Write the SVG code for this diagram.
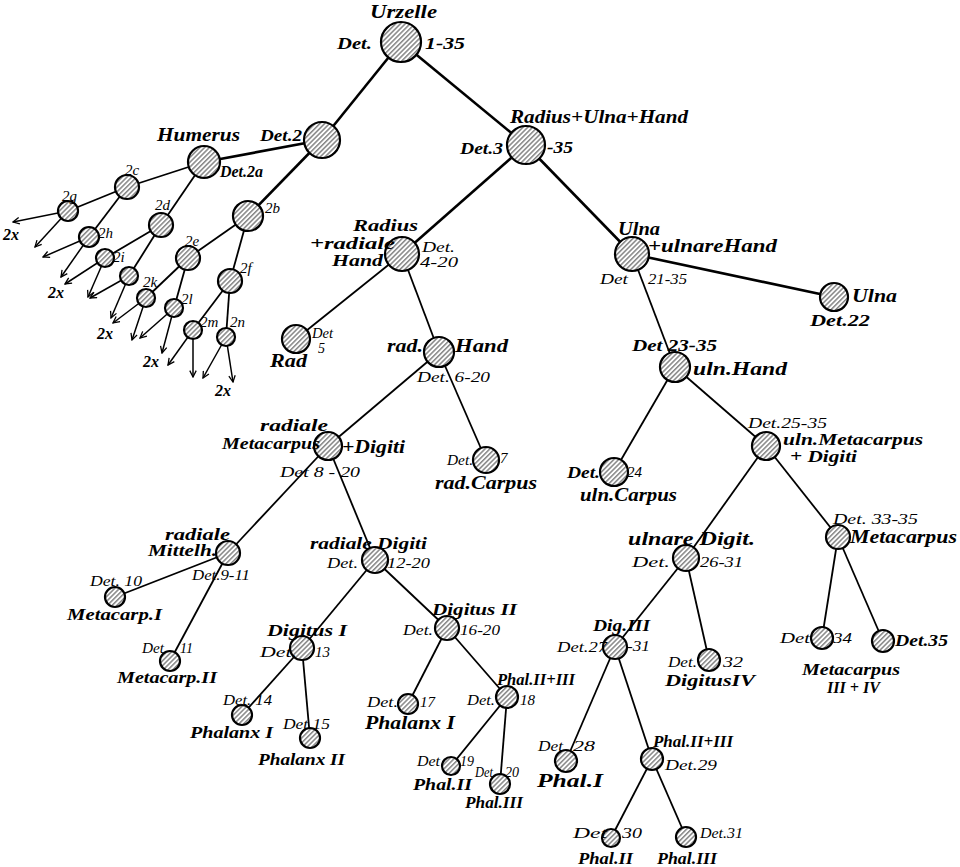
<svg xmlns="http://www.w3.org/2000/svg" width="960" height="867" viewBox="0 0 960 867">
<defs>
<pattern id="h" width="3.4" height="3.4" patternUnits="userSpaceOnUse" patternTransform="rotate(45)"><rect width="3.4" height="3.4" fill="#fff"/><line x1="0.8" y1="0" x2="0.8" y2="3.4" stroke="#333" stroke-width="0.9"/></pattern>
<marker id="ar" viewBox="0 0 10 10" refX="9" refY="5" markerWidth="8" markerHeight="8" markerUnits="userSpaceOnUse" orient="auto"><path d="M1,1 L9,5 L1,9" fill="none" stroke="#000" stroke-width="1.6"/></marker>
</defs>
<style>
text{font-family:"Liberation Serif",serif;font-style:italic;fill:#000}
.n{font-size:18px;font-weight:bold}
.k{font-size:16px;font-weight:bold}
.m{font-size:16px;font-weight:bold}
.d{font-size:15px}
.s{font-size:14px}
circle{fill:url(#h);stroke:#000;stroke-width:2.2}
.c line{stroke:#000;stroke-width:1.8}
.c .t{stroke-width:2.6}
.c .a{stroke-width:1.5;marker-end:url(#ar)}
</style>
<rect width="960" height="867" fill="#fff"/>
<g class="c" id="connectors">
<line class="t" x1="401" y1="42" x2="322" y2="140"/>
<line class="t" x1="401" y1="42" x2="526" y2="145"/>
<line class="t" x1="322" y1="140" x2="204" y2="162"/>
<line class="t" x1="322" y1="140" x2="248" y2="216"/>
<line x1="204" y1="162" x2="127" y2="187"/>
<line x1="204" y1="162" x2="161" y2="225"/>
<line x1="127" y1="187" x2="68" y2="211"/>
<line x1="127" y1="187" x2="89" y2="237"/>
<line x1="161" y1="225" x2="105" y2="258"/>
<line x1="161" y1="225" x2="129" y2="276"/>
<line x1="248" y1="216" x2="188" y2="258"/>
<line x1="248" y1="216" x2="230" y2="281"/>
<line x1="188" y1="258" x2="146" y2="298"/>
<line x1="188" y1="258" x2="174" y2="308"/>
<line x1="230" y1="281" x2="193" y2="330"/>
<line x1="230" y1="281" x2="226" y2="337"/>
<line class="a" x1="68" y1="211" x2="13" y2="222"/>
<line class="a" x1="68" y1="211" x2="35" y2="247"/>
<line class="a" x1="89" y1="237" x2="43" y2="257"/>
<line class="a" x1="89" y1="237" x2="61" y2="277"/>
<line class="a" x1="105" y1="258" x2="65" y2="284"/>
<line class="a" x1="105" y1="258" x2="88" y2="297"/>
<line class="a" x1="129" y1="276" x2="90" y2="298"/>
<line class="a" x1="129" y1="276" x2="111" y2="318"/>
<line class="a" x1="146" y1="298" x2="113" y2="323"/>
<line class="a" x1="146" y1="298" x2="132" y2="340"/>
<line class="a" x1="174" y1="308" x2="140" y2="338"/>
<line class="a" x1="174" y1="308" x2="162" y2="353"/>
<line class="a" x1="193" y1="330" x2="168" y2="365"/>
<line class="a" x1="193" y1="330" x2="193" y2="377"/>
<line class="a" x1="226" y1="337" x2="203" y2="378"/>
<line class="a" x1="226" y1="337" x2="233" y2="382"/>
<line class="t" x1="526" y1="145" x2="402" y2="254"/>
<line class="t" x1="526" y1="145" x2="632" y2="254"/>
<line x1="402" y1="254" x2="296" y2="339"/>
<line x1="402" y1="254" x2="439" y2="352"/>
<line x1="439" y1="352" x2="328" y2="446"/>
<line x1="439" y1="352" x2="486" y2="460"/>
<line x1="328" y1="446" x2="228" y2="553"/>
<line x1="328" y1="446" x2="375" y2="560"/>
<line x1="228" y1="553" x2="115" y2="597"/>
<line x1="228" y1="553" x2="170" y2="661"/>
<line x1="375" y1="560" x2="302" y2="648"/>
<line x1="375" y1="560" x2="447" y2="628"/>
<line x1="302" y1="648" x2="242" y2="715"/>
<line x1="302" y1="648" x2="310" y2="738"/>
<line x1="447" y1="628" x2="408" y2="704"/>
<line x1="447" y1="628" x2="507" y2="697"/>
<line x1="507" y1="697" x2="451" y2="766"/>
<line x1="507" y1="697" x2="500" y2="784"/>
<line class="t" x1="632" y1="254" x2="834" y2="297"/>
<line x1="632" y1="254" x2="675" y2="367"/>
<line x1="675" y1="367" x2="614" y2="472"/>
<line x1="675" y1="367" x2="766" y2="446"/>
<line x1="766" y1="446" x2="686" y2="558"/>
<line x1="766" y1="446" x2="838" y2="537"/>
<line x1="686" y1="558" x2="615" y2="647"/>
<line x1="686" y1="558" x2="709" y2="660"/>
<line x1="838" y1="537" x2="822" y2="638"/>
<line x1="838" y1="537" x2="883" y2="641"/>
<line x1="615" y1="647" x2="566" y2="761"/>
<line x1="615" y1="647" x2="652" y2="759"/>
<line x1="652" y1="759" x2="611" y2="838"/>
<line x1="652" y1="759" x2="686" y2="837"/>
</g>
<g id="n-urzelle"><circle cx="401" cy="42" r="20" stroke-width="2.6"/>
<text class="n" x="370" y="18" textLength="67" lengthAdjust="spacingAndGlyphs">Urzelle</text>
<text class="m" x="337" y="49" textLength="35" lengthAdjust="spacingAndGlyphs">Det.</text>
<text class="m" x="425" y="49" textLength="40" lengthAdjust="spacingAndGlyphs">1-35</text></g>
<g id="n-det2"><circle cx="322" cy="140" r="18" stroke-width="2.6"/>
<text class="m" x="260" y="141" textLength="42" lengthAdjust="spacingAndGlyphs">Det.2</text></g>
<g id="n-det2a"><circle cx="204" cy="162" r="16" stroke-width="2.4"/>
<text class="n" x="157" y="141" textLength="83" lengthAdjust="spacingAndGlyphs">Humerus</text>
<text class="m" x="220" y="177" textLength="43" lengthAdjust="spacingAndGlyphs">Det.2a</text></g>
<g id="n-2b"><circle cx="248" cy="216" r="15"/><text class="d" x="265" y="213">2b</text></g>
<g id="n-2c"><circle cx="127" cy="187" r="12"/><text class="d" x="125" y="175">2c</text></g>
<g id="n-2d"><circle cx="161" cy="225" r="12"/><text class="d" x="155" y="210">2d</text></g>
<g id="n-2e"><circle cx="188" cy="258" r="12"/><text class="d" x="185" y="246">2e</text></g>
<g id="n-2f"><circle cx="230" cy="281" r="12"/><text class="d" x="240" y="273">2f</text></g>
<g id="n-2g"><circle cx="68" cy="211" r="10"/><text class="d" x="62" y="201">2g</text></g>
<g id="n-2h"><circle cx="89" cy="237" r="10"/><text class="d" x="98" y="238">2h</text></g>
<g id="n-2i"><circle cx="105" cy="258" r="9"/><text class="d" x="113" y="262">2i</text></g>
<g id="n-2j"><circle cx="129" cy="276" r="9"/></g>
<g id="n-2k"><circle cx="146" cy="298" r="9"/><text class="d" x="143" y="287">2k</text></g>
<g id="n-2l"><circle cx="174" cy="308" r="9"/><text class="d" x="181" y="304">2l</text></g>
<g id="n-2m"><circle cx="193" cy="330" r="9"/><text class="d" x="200" y="327">2m</text></g>
<g id="n-2n"><circle cx="226" cy="337" r="9"/><text class="d" x="230" y="327">2n</text></g>
<g id="l-2x">
<text class="m" x="3" y="240">2x</text>
<text class="m" x="48" y="298">2x</text>
<text class="m" x="97" y="339">2x</text>
<text class="m" x="143" y="367">2x</text>
<text class="m" x="215" y="396">2x</text>
</g>
<g id="n-det3"><circle cx="526" cy="145" r="19" stroke-width="2.6"/>
<text class="n" x="510" y="123" textLength="178" lengthAdjust="spacingAndGlyphs">Radius+Ulna+Hand</text>
<text class="m" x="460" y="154" textLength="43" lengthAdjust="spacingAndGlyphs">Det.3</text>
<text class="m" x="547" y="153" textLength="26" lengthAdjust="spacingAndGlyphs">-35</text></g>
<g id="n-det4"><circle cx="402" cy="254" r="17" stroke-width="2.4"/>
<text class="k" x="353" y="231" textLength="65" lengthAdjust="spacingAndGlyphs">Radius</text>
<text class="k" x="310" y="249" textLength="85" lengthAdjust="spacingAndGlyphs">+radiale</text>
<text class="k" x="332" y="266" textLength="51" lengthAdjust="spacingAndGlyphs">Hand</text>
<text class="d" x="422" y="252" textLength="33" lengthAdjust="spacingAndGlyphs">Det.</text>
<text class="d" x="420" y="267" textLength="38" lengthAdjust="spacingAndGlyphs">4-20</text></g>
<g id="n-det5"><circle cx="296" cy="339" r="14"/>
<text class="s" x="312" y="338" textLength="21" lengthAdjust="spacingAndGlyphs">Det</text><text class="s" x="318" y="353">5</text>
<text class="n" x="270" y="367" textLength="37" lengthAdjust="spacingAndGlyphs">Rad</text></g>
<g id="n-det6"><circle cx="439" cy="352" r="15"/>
<text class="n" x="387" y="352" textLength="36" lengthAdjust="spacingAndGlyphs">rad.</text>
<text class="n" x="455" y="352" textLength="53" lengthAdjust="spacingAndGlyphs">Hand</text>
<text class="d" x="417" y="382" textLength="73" lengthAdjust="spacingAndGlyphs">Det. 6-20</text></g>
<g id="n-det7"><circle cx="486" cy="460" r="13"/>
<text class="d" x="447" y="465" textLength="26" lengthAdjust="spacingAndGlyphs">Det.</text><text class="d" x="500" y="463">7</text>
<text class="n" x="435" y="489" textLength="102" lengthAdjust="spacingAndGlyphs">rad.Carpus</text></g>
<g id="n-det8"><circle cx="328" cy="446" r="14"/>
<text class="k" x="260" y="431" textLength="68" lengthAdjust="spacingAndGlyphs">radiale</text>
<text class="k" x="222" y="449" textLength="98" lengthAdjust="spacingAndGlyphs">Metacarpus</text>
<text class="n" x="342" y="453" textLength="63" lengthAdjust="spacingAndGlyphs">+Digiti</text>
<text class="d" x="280" y="477" textLength="80" lengthAdjust="spacingAndGlyphs">Det 8 - 20</text></g>
<g id="n-det9"><circle cx="228" cy="553" r="12"/>
<text class="m" x="165" y="540" textLength="65" lengthAdjust="spacingAndGlyphs">radiale</text>
<text class="m" x="148" y="556" textLength="69" lengthAdjust="spacingAndGlyphs">Mittelh.</text>
<text class="d" x="192" y="580" textLength="58" lengthAdjust="spacingAndGlyphs">Det.9-11</text></g>
<g id="n-det10"><circle cx="115" cy="597" r="10"/>
<text class="d" x="90" y="586" textLength="52" lengthAdjust="spacingAndGlyphs">Det. 10</text>
<text class="m" x="67" y="620" textLength="95" lengthAdjust="spacingAndGlyphs">Metacarp.I</text></g>
<g id="n-det11"><circle cx="170" cy="661" r="10"/>
<text class="s" x="142" y="653" textLength="22" lengthAdjust="spacingAndGlyphs">Det</text><text class="s" x="180" y="653">11</text>
<text class="m" x="117" y="683" textLength="100" lengthAdjust="spacingAndGlyphs">Metacarp.II</text></g>
<g id="n-det12"><circle cx="375" cy="560" r="13"/>
<text class="m" x="310" y="549" textLength="117" lengthAdjust="spacingAndGlyphs">radiale Digiti</text>
<text class="d" x="327" y="568" textLength="31" lengthAdjust="spacingAndGlyphs">Det.</text>
<text class="d" x="387" y="568" textLength="43" lengthAdjust="spacingAndGlyphs">12-20</text></g>
<g id="n-det13"><circle cx="302" cy="648" r="12"/>
<text class="m" x="267" y="636" textLength="80" lengthAdjust="spacingAndGlyphs">Digitus I</text>
<text class="d" x="260" y="657" textLength="37" lengthAdjust="spacingAndGlyphs">Det.</text><text class="d" x="315" y="657">13</text></g>
<g id="n-det14"><circle cx="242" cy="715" r="10"/>
<text class="s" x="223" y="705" textLength="49" lengthAdjust="spacingAndGlyphs">Det. 14</text>
<text class="m" x="190" y="738" textLength="83" lengthAdjust="spacingAndGlyphs">Phalanx I</text></g>
<g id="n-det15"><circle cx="310" cy="738" r="10"/>
<text class="s" x="283" y="729" textLength="47" lengthAdjust="spacingAndGlyphs">Det 15</text>
<text class="m" x="258" y="765" textLength="87" lengthAdjust="spacingAndGlyphs">Phalanx II</text></g>
<g id="n-det16"><circle cx="447" cy="628" r="12"/>
<text class="m" x="432" y="615" textLength="85" lengthAdjust="spacingAndGlyphs">Digitus II</text>
<text class="d" x="403" y="635" textLength="30" lengthAdjust="spacingAndGlyphs">Det.</text>
<text class="d" x="460" y="635" textLength="40" lengthAdjust="spacingAndGlyphs">16-20</text></g>
<g id="n-det17"><circle cx="408" cy="704" r="10"/>
<text class="d" x="367" y="707" textLength="31" lengthAdjust="spacingAndGlyphs">Det.</text><text class="d" x="420" y="707">17</text>
<text class="n" x="365" y="729" textLength="90" lengthAdjust="spacingAndGlyphs">Phalanx I</text></g>
<g id="n-det18"><circle cx="507" cy="697" r="11"/>
<text class="m" x="497" y="685" textLength="78" lengthAdjust="spacingAndGlyphs">Phal.II+III</text>
<text class="d" x="467" y="705" textLength="28" lengthAdjust="spacingAndGlyphs">Det.</text><text class="d" x="520" y="705">18</text></g>
<g id="n-det19"><circle cx="451" cy="766" r="9"/>
<text class="s" x="417" y="766" textLength="23" lengthAdjust="spacingAndGlyphs">Det</text><text class="s" x="460" y="766">19</text>
<text class="m" x="413" y="790" textLength="59" lengthAdjust="spacingAndGlyphs">Phal.II</text></g>
<g id="n-det20"><circle cx="500" cy="784" r="10"/>
<text class="s" x="475" y="777" textLength="18" lengthAdjust="spacingAndGlyphs">Det</text><text class="s" x="505" y="777">20</text>
<text class="m" x="465" y="808" textLength="58" lengthAdjust="spacingAndGlyphs">Phal.III</text></g>
<g id="n-det21"><circle cx="632" cy="254" r="17" stroke-width="2.4"/>
<text class="n" x="618" y="235" textLength="42" lengthAdjust="spacingAndGlyphs">Ulna</text>
<text class="n" x="648" y="252" textLength="129" lengthAdjust="spacingAndGlyphs">+ulnareHand</text>
<text class="d" x="600" y="284" textLength="28" lengthAdjust="spacingAndGlyphs">Det</text>
<text class="d" x="648" y="284" textLength="39" lengthAdjust="spacingAndGlyphs">21-35</text></g>
<g id="n-det22"><circle cx="834" cy="297" r="14"/>
<text class="n" x="852" y="302" textLength="45" lengthAdjust="spacingAndGlyphs">Ulna</text>
<text class="m" x="810" y="326" textLength="60" lengthAdjust="spacingAndGlyphs">Det.22</text></g>
<g id="n-det23"><circle cx="675" cy="367" r="15"/>
<text class="m" x="632" y="351" textLength="85" lengthAdjust="spacingAndGlyphs">Det 23-35</text>
<text class="n" x="693" y="375" textLength="94" lengthAdjust="spacingAndGlyphs">uln.Hand</text></g>
<g id="n-det24"><circle cx="614" cy="472" r="14"/>
<text class="m" x="567" y="478" textLength="33" lengthAdjust="spacingAndGlyphs">Det.</text><text class="d" x="627" y="477">24</text>
<text class="n" x="580" y="501" textLength="97" lengthAdjust="spacingAndGlyphs">uln.Carpus</text></g>
<g id="n-det25"><circle cx="766" cy="446" r="14"/>
<text class="d" x="748" y="428" textLength="79" lengthAdjust="spacingAndGlyphs">Det.25-35</text>
<text class="k" x="783" y="445" textLength="140" lengthAdjust="spacingAndGlyphs">uln.Metacarpus</text>
<text class="k" x="790" y="462" textLength="67" lengthAdjust="spacingAndGlyphs">+ Digiti</text></g>
<g id="n-det26"><circle cx="686" cy="558" r="13"/>
<text class="n" x="628" y="545" textLength="127" lengthAdjust="spacingAndGlyphs">ulnare  Digit.</text>
<text class="d" x="632" y="567" textLength="38" lengthAdjust="spacingAndGlyphs">Det.</text>
<text class="d" x="700" y="567" textLength="43" lengthAdjust="spacingAndGlyphs">26-31</text></g>
<g id="n-det27"><circle cx="615" cy="647" r="12"/>
<text class="m" x="593" y="631" textLength="57" lengthAdjust="spacingAndGlyphs">Dig.III</text>
<text class="d" x="557" y="652" textLength="50" lengthAdjust="spacingAndGlyphs">Det.27</text>
<text class="d" x="627" y="651" textLength="23" lengthAdjust="spacingAndGlyphs">-31</text></g>
<g id="n-det28"><circle cx="566" cy="761" r="11"/>
<text class="d" x="538" y="751" textLength="25" lengthAdjust="spacingAndGlyphs">Det</text><text class="d" x="573" y="751" textLength="22" lengthAdjust="spacingAndGlyphs">28</text>
<text class="n" x="537" y="787" textLength="66" lengthAdjust="spacingAndGlyphs">Phal.I</text></g>
<g id="n-det29"><circle cx="652" cy="759" r="11"/>
<text class="m" x="653" y="747" textLength="80" lengthAdjust="spacingAndGlyphs">Phal.II+III</text>
<text class="d" x="665" y="770" textLength="52" lengthAdjust="spacingAndGlyphs">Det.29</text></g>
<g id="n-det30"><circle cx="611" cy="838" r="9"/>
<text class="d" x="573" y="838" textLength="34" lengthAdjust="spacingAndGlyphs">Det</text><text class="d" x="622" y="838" textLength="20" lengthAdjust="spacingAndGlyphs">30</text>
<text class="m" x="578" y="864" textLength="55" lengthAdjust="spacingAndGlyphs">Phal.II</text></g>
<g id="n-det31"><circle cx="686" cy="837" r="10"/>
<text class="d" x="700" y="838" textLength="43" lengthAdjust="spacingAndGlyphs">Det.31</text>
<text class="m" x="657" y="864" textLength="60" lengthAdjust="spacingAndGlyphs">Phal.III</text></g>
<g id="n-det32"><circle cx="709" cy="660" r="11"/>
<text class="d" x="668" y="667" textLength="29" lengthAdjust="spacingAndGlyphs">Det.</text><text class="d" x="723" y="667" textLength="20" lengthAdjust="spacingAndGlyphs">32</text>
<text class="m" x="665" y="686" textLength="90" lengthAdjust="spacingAndGlyphs">DigitusIV</text></g>
<g id="n-det33"><circle cx="838" cy="537" r="12"/>
<text class="d" x="833" y="524" textLength="85" lengthAdjust="spacingAndGlyphs">Det. 33-35</text>
<text class="n" x="850" y="543" textLength="107" lengthAdjust="spacingAndGlyphs">Metacarpus</text></g>
<g id="n-det34"><circle cx="822" cy="638" r="11"/>
<text class="d" x="780" y="643" textLength="30" lengthAdjust="spacingAndGlyphs">Det</text><text class="d" x="833" y="643" textLength="19" lengthAdjust="spacingAndGlyphs">34</text>
<text class="k" x="802" y="675" textLength="98" lengthAdjust="spacingAndGlyphs">Metacarpus</text>
<text class="m" x="827" y="693" textLength="53" lengthAdjust="spacingAndGlyphs">III + IV</text></g>
<g id="n-det35"><circle cx="883" cy="641" r="11"/>
<text class="m" x="895" y="646" textLength="53" lengthAdjust="spacingAndGlyphs">Det.35</text></g>
</svg>
